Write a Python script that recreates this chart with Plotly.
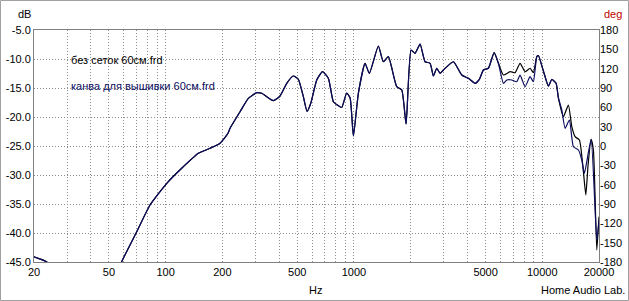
import plotly.graph_objects as go
import math

# ---- data ----
freq_common = [20, 23.4, 30, 40, 50, 58.4, 69.6, 82.6, 101.4, 121.7, 149.2, 172.1, 194.5, 214.4,
               219.8, 248.4, 274.8, 304.6, 323.8, 373.2, 405, 439.6, 476.6, 506.6, 538.5, 563.5,
               589.6, 634.5, 681, 731, 777, 816, 861, 915, 954, 993, 1055, 1145, 1207, 1347, 1432,
               1522, 1687, 1794, 1891, 2010, 2110, 2244, 2386, 2536, 2640, 2751, 2866, 2985, 3372,
               3736, 4049, 4395, 4634, 4866, 5172, 5548, 5846]
db_common = [-44.1, -45.0, -50, -54, -50, -44.95, -40.05, -35.17, -31.43, -28.84, -26.26, -25.40,
             -24.53, -22.81, -21.95, -19.09, -16.78, -15.81, -15.91, -17.19, -16.38, -14.19, -12.93,
             -13.50, -16.50, -19.05, -17.64, -13.62, -12.19, -13.33, -17.36, -17.93, -18.36, -15.86,
             -16.72, -23.28, -15.91, -10.74, -12.47, -7.76, -10.47, -9.60, -14.78, -15.34, -21.21,
             -8.45, -9.02, -7.41, -10.47, -10.74, -12.93, -11.60, -12.47, -11.90, -10.47, -12.76,
             -13.33, -14.19, -13.50, -11.90, -11.60, -8.91, -10.74]

freq_mid_a = [6216, 6746, 7171, 7621, 8100, 8610, 8966, 9348]
db_mid_a = [-12.76, -12.19, -12.36, -10.74, -12.19, -11.60, -12.36, -9.60]
freq_mid_b = [6216, 6479, 6888, 7322, 7621, 8100, 8610, 8966, 9348]
db_mid_b = [-14.19, -13.62, -13.62, -13.91, -12.76, -14.78, -13.05, -13.91, -9.60]

freq_common2 = [9532, 10134, 10772, 11230, 11836, 12174]
db_common2 = [-9.40, -12.07, -14.66, -13.53, -14.19, -16.72]

freq_tail_a = [12940, 13757, 14342, 14932, 15738, 16528, 17022, 17498, 18156, 18678, 19468, 20000]
db_tail_a = [-19.95, -17.93, -21.67, -23.40, -23.97, -29.43, -33.45, -28.3, -23.84, -25.69, -42.93, -37.19]
freq_tail_b = [12690, 13214, 13926, 14624, 15548, 16206, 16732, 18156, 19468, 20000]
db_tail_b = [-18.79, -21.95, -20.52, -25.12, -25.69, -27.41, -29.71, -23.84, -41.21, -37.76]

name_a = "без сеток 60см.frd"
name_b = "канва для вышивки 60см.frd"

x_tick_vals = [20, 30, 40, 50, 60, 70, 80, 90, 100, 200, 300, 400, 500, 600, 700, 800, 900,
               1000, 2000, 3000, 4000, 5000, 6000, 7000, 8000, 9000, 10000, 20000]
x_labelled = [20, 50, 100, 200, 500, 1000, 5000, 10000, 20000]
y_tick_vals = [-5, -10, -15, -20, -25, -30, -35, -40, -45]
deg_tick_vals = [180, 150, 120, 90, 60, 30, 0, -30, -60, -90, -120, -150, -180]

# ---- figure ----
W, H = 629, 301
L, R, T, B = 34, 30, 30, 39
pw, ph = W - L - R, H - T - B

def px(x):
    return (x - L) / pw

def py(y):
    return (H - B - y) / ph

col_a = "#000000"
col_b = "#0c0c5e"
FONT = "Liberation Sans"
line_shape = dict(shape="spline", smoothing=0.5)

fig = go.Figure()
fig.add_trace(go.Scatter(x=freq_common + freq_mid_a + freq_common2 + freq_tail_a,
                         y=db_common + db_mid_a + db_common2 + db_tail_a,
                         mode="lines", line=dict(color=col_a, width=1.2, **line_shape), name=name_a,
                         showlegend=False, hoverinfo="skip"))
fig.add_trace(go.Scatter(x=freq_common + freq_mid_b + freq_common2 + freq_tail_b,
                         y=db_common + db_mid_b + db_common2 + db_tail_b,
                         mode="lines", line=dict(color=col_b, width=1.2, **line_shape), name=name_b,
                         showlegend=False, hoverinfo="skip"))
# empty trace so the phase (deg) axis is drawn
fig.add_trace(go.Scatter(x=[], y=[], yaxis="y2", mode="lines", showlegend=False, hoverinfo="skip"))

fig.update_layout(
    width=W, height=H,
    margin=dict(l=L, r=R, t=T, b=B, pad=0),
    paper_bgcolor="white", plot_bgcolor="white",
    font=dict(family=FONT, size=11, color="black"),
    xaxis=dict(type="log", range=[math.log10(20) - 1e-5, math.log10(20000) + 1e-5],
               tickvals=x_tick_vals,
               ticktext=[str(v) if v in x_labelled else "" for v in x_tick_vals],
               showgrid=True, gridcolor="#8c8c8c", griddash="1px,2px", gridwidth=1,
               showline=True, linecolor="#808080", linewidth=1, mirror=True,
               ticks="", zeroline=False, tickfont=dict(size=11), automargin=False),
    yaxis=dict(range=[-45.0001, -4.9999], tickvals=y_tick_vals,
               ticktext=["%.1f" % v for v in y_tick_vals],
               showgrid=True, gridcolor="#8c8c8c", griddash="1px,2px", gridwidth=1,
               showline=True, linecolor="#808080", linewidth=1, mirror=True,
               ticks="", zeroline=False, tickfont=dict(size=11), automargin=False),
    yaxis2=dict(overlaying="y", side="right", range=[-180.001, 180.001],
                tickvals=deg_tick_vals, ticktext=[str(v) for v in deg_tick_vals],
                showgrid=False, zeroline=False, ticks="", showline=False,
                tickfont=dict(size=11), automargin=False),
)

ann = [
    dict(text="dB", x=px(24), y=py(13.5), color="black", xanchor="center"),
    dict(text="deg", x=px(613), y=py(14), color="#c00000", xanchor="center"),
    dict(text="Hz", x=px(315), y=py(290), color="black", xanchor="center"),
    dict(text="Home Audio Lab.", x=px(627), y=py(290), color="black", xanchor="right"),
    dict(text=name_a, x=px(69), y=py(60), color=col_a, xanchor="left"),
    dict(text=name_b, x=px(69), y=py(86), color=col_b, xanchor="left"),
]
for a in ann:
    fig.add_annotation(text=a["text"], x=a["x"], y=a["y"], xref="paper", yref="paper",
                       xanchor=a["xanchor"], yanchor="middle", showarrow=False,
                       font=dict(family=FONT, size=11, color=a["color"]))

fig.add_shape(type="rect", xref="paper", yref="paper",
              x0=px(0.5), x1=px(628.5), y0=py(300.5), y1=py(0.5),
              line=dict(color="#a0a0a0", width=1), layer="below")

fig.write_html("out.html")
